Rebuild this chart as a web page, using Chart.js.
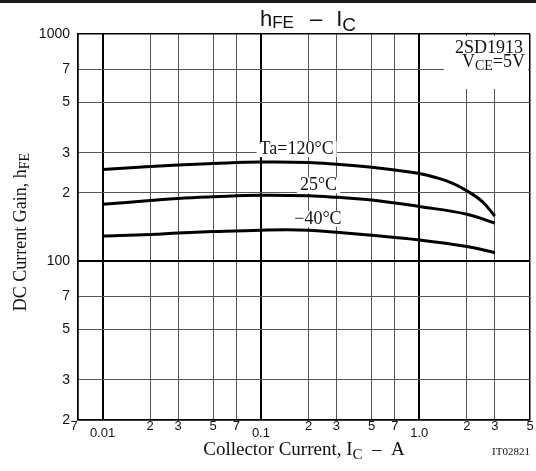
<!DOCTYPE html>
<html>
<head>
<meta charset="utf-8">
<script src="https://cdn.jsdelivr.net/npm/chart.js@4.4.0/dist/chart.umd.min.js"></script>
<style>
  html, body { margin: 0; padding: 0; background: #fff; }
  #wrap { position: relative; width: 536px; height: 471px; }
  #topbar { position: absolute; left: 0; top: 0; width: 536px; height: 3px; background: #1a1a1a; }
</style>
</head>
<body>
<div id="wrap">
  <canvas id="hfeChart"></canvas>
  <div id="topbar"></div>
</div>
<script>
// collector current (A) and DC current gain
var currentA120 = [0.01, 0.02, 0.03, 0.05, 0.1, 0.2, 0.3, 0.5, 0.7, 1.0, 1.5, 2.0, 2.5, 3.0];
var hfe120 = [253, 261, 265, 269, 273, 272, 267, 259, 252, 243, 225, 204, 183, 158];
var currentA = [0.01, 0.02, 0.03, 0.05, 0.1, 0.2, 0.3, 0.5, 1.0, 2.0, 3.0];
var hfe25 = [178, 185, 189, 192, 195, 194, 191, 186, 174, 161, 147];
var hfeMinus40 = [129, 131, 133, 135, 137, 137, 134, 130, 124, 116, 109];

var xTicks = [0.007, 0.01, 0.02, 0.03, 0.05, 0.07, 0.1, 0.2, 0.3, 0.5, 0.7, 1, 2, 3, 5];
var xTickLabels = ['7', '0.01', '2', '3', '5', '7', '0.1', '2', '3', '5', '7', '1.0', '2', '3', '5'];
var xMajor = [0.01, 0.1, 1];
var yTicks = [20, 30, 50, 70, 100, 200, 300, 500, 700, 1000];
var yTickLabels = ['2', '3', '5', '7', '100', '2', '3', '5', '7', '1000'];
var yMajor = [100];

// curve labels, anchored in data coordinates
var curveLabels = [
  { text: 'Ta=120°C', x: 0.168, y: 296 },
  { text: '25°C', x: 0.231, y: 205 },
  { text: '\u221240°C', x: 0.229, y: 146 }
];

var SERIF = '"Liberation Serif", "DejaVu Serif", serif';
var SANS = '"Liberation Sans", Arial, sans-serif';

function pts(xs, ys) {
  return xs.map(function(x, i){ return { x: x, y: ys[i] }; });
}
function isIn(list, v) {
  return list.some(function(m){ return Math.abs(m - v) / m < 1e-6; });
}

// draws a row of text pieces; returns total width
function richText(ctx, parts, x, y, align) {
  var w = 0;
  parts.forEach(function(p){
    if (p.gap) { w += p.gap; return; }
    ctx.font = p.font;
    w += ctx.measureText(p.t).width;
  });
  var cx = align === 'right' ? x - w : align === 'center' ? x - w / 2 : x;
  ctx.textAlign = 'left';
  ctx.textBaseline = 'alphabetic';
  parts.forEach(function(p){
    if (p.gap) { cx += p.gap; return; }
    ctx.font = p.font;
    ctx.fillText(p.t, cx, y + (p.dy || 0));
    cx += ctx.measureText(p.t).width;
  });
  return w;
}

var decor = {
  id: 'decor',
  beforeDatasetsDraw: function(chart) {
    var ctx = chart.ctx, a = chart.chartArea;
    var xs = chart.scales.x, ys = chart.scales.y;
    ctx.save();
    ctx.fillStyle = '#fff';
    // box behind the part number
    ctx.fillRect(a.right - 86, a.top + 2, 84, 53);
    ctx.font = '18px ' + SERIF;
    curveLabels.forEach(function(l){
      var px = xs.getPixelForValue(l.x), py = ys.getPixelForValue(l.y);
      var w = ctx.measureText(l.text).width;
      ctx.fillRect(px - w / 2 - 3, py - 13, w + 6, 16);
    });
    ctx.restore();
  },
  afterDatasetsDraw: function(chart) {
    var ctx = chart.ctx, a = chart.chartArea;
    var xs = chart.scales.x, ys = chart.scales.y;
    ctx.save();
    ctx.fillStyle = '#111';
    ctx.font = '18px ' + SERIF;
    ctx.textAlign = 'center';
    ctx.textBaseline = 'alphabetic';
    curveLabels.forEach(function(l){
      ctx.fillText(l.text, xs.getPixelForValue(l.x), ys.getPixelForValue(l.y));
    });
    ctx.textAlign = 'right';
    ctx.fillText('2SD1913', a.right - 7, a.top + 19);
    richText(ctx, [
      { t: 'V', font: '18px ' + SERIF },
      { t: 'CE', font: '14px ' + SERIF, dy: 3 },
      { t: '=5V', font: '18px ' + SERIF }
    ], a.right - 5, a.top + 33, 'right');
    ctx.restore();
  },
  afterDraw: function(chart) {
    var ctx = chart.ctx, a = chart.chartArea;
    var xs = chart.scales.x;
    ctx.save();
    ctx.fillStyle = '#111';
    // x tick labels: decade labels sit a little lower
    ctx.font = '13px ' + SANS;
    ctx.textAlign = 'center';
    ctx.textBaseline = 'middle';
    xTicks.forEach(function(v, i){
      var py = isIn(xMajor, v) ? a.bottom + 13 : a.bottom + 6;
      var px = xs.getPixelForValue(v);
      if (i === 0) px -= 4;
      ctx.fillText(xTickLabels[i], px, py);
    });
    // title
    richText(ctx, [
      { t: 'h', font: '22px ' + SANS },
      { t: 'FE', font: '17px ' + SANS, dy: 2 },
      { gap: 16 },
      { t: '\u2013', font: '22px ' + SANS },
      { gap: 14 },
      { t: 'I', font: '22px ' + SANS },
      { t: 'C', font: '19px ' + SANS, dy: 5 }
    ], 308, 26, 'center');
    // x axis title
    richText(ctx, [
      { t: 'Collector Current, I', font: '19px ' + SERIF },
      { t: 'C', font: '15px ' + SERIF, dy: 4 },
      { t: '  \u2013  A', font: '19px ' + SERIF }
    ], 304, 455, 'center');
    ctx.font = '11px ' + SERIF;
    ctx.textAlign = 'right';
    ctx.fillText('IT02821', 530, 455);
    // y axis title
    ctx.translate(26, 232);
    ctx.rotate(-Math.PI / 2);
    richText(ctx, [
      { t: 'DC Current Gain, h', font: '18px ' + SERIF },
      { t: 'FE', font: '14px ' + SERIF, dy: 3 }
    ], 0, 0, 'center');
    ctx.restore();
  }
};

function gridWidth(major, edges) {
  return function(c) {
    var v = c.tick ? c.tick.value : null;
    if (v === null) return 1;
    if (isIn(edges, v)) return 1.5;
    return isIn(major, v) ? 2 : 1;
  };
}
function gridColor(major, edges) {
  return function(c) {
    var v = c.tick ? c.tick.value : null;
    if (v !== null && (isIn(major, v) || isIn(edges, v))) return '#000';
    return '#555';
  };
}

var line = { borderColor: '#000', borderWidth: 3, pointRadius: 0, fill: false, tension: 0.4 };

new Chart(document.getElementById('hfeChart'), {
  type: 'line',
  data: {
    datasets: [
      Object.assign({ label: 'Ta=120°C', data: pts(currentA120, hfe120) }, line),
      Object.assign({ label: '25°C', data: pts(currentA, hfe25) }, line),
      Object.assign({ label: '-40°C', data: pts(currentA, hfeMinus40) }, line)
    ]
  },
  options: {
    responsive: true,
    maintainAspectRatio: false,
    animation: false,
    layout: { padding: { top: 34, right: 6, bottom: 0, left: 0 } },
    plugins: { legend: { display: false }, tooltip: { enabled: false } },
    scales: {
      x: {
        type: 'logarithmic',
        min: 0.007,
        max: 5,
        afterBuildTicks: function(s){ s.ticks = xTicks.map(function(v){ return { value: v }; }); },
        afterFit: function(s){ s.height = 51; },
        ticks: { display: false },
        grid: { drawTicks: false, lineWidth: gridWidth(xMajor, [0.007, 5]), color: gridColor(xMajor, [0.007, 5]) },
        border: { color: '#000', width: 1.5 }
      },
      y: {
        type: 'logarithmic',
        min: 20,
        max: 1000,
        afterBuildTicks: function(s){ s.ticks = yTicks.map(function(v){ return { value: v }; }); },
        afterFit: function(s){ s.width = 78; },
        ticks: {
          padding: 8,
          color: '#111',
          font: { family: SANS, size: 14 },
          callback: function(v, i){ return yTickLabels[i]; }
        },
        grid: { drawTicks: false, lineWidth: gridWidth(yMajor, [20, 1000]), color: gridColor(yMajor, [20, 1000]) },
        border: { color: '#000', width: 1.5 }
      }
    }
  },
  plugins: [decor]
});
</script>
</body>
</html>
